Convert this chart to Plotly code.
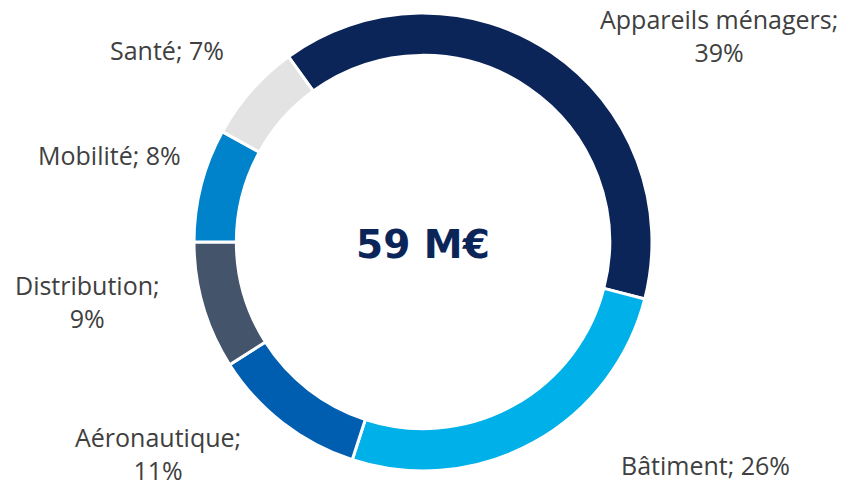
import plotly.graph_objects as go

# ---- data ----
categories = ["Appareils ménagers", "Bâtiment", "Aéronautique", "Distribution", "Mobilité", "Santé"]
values = [39, 26, 11, 9, 8, 7]
colors = ["#0C2559", "#00B0E8", "#005EB0", "#44546A", "#0083CB", "#E3E3E3"]
center_text = "59 M€"

# label layout (style): whether the percentage goes on its own line, and label centre in px
label_break = [True, False, True, True, False, False]
label_pos_px = [(719, 35), (705, 465), (158, 453), (87, 301), (109, 155), (167, 50)]

W, H = 848, 487
cx, cy, R = 423, 242, 229


def px(x, y):
    return x / W, 1 - y / H


fig = go.Figure(
    go.Pie(
        labels=categories,
        values=values,
        hole=0.815,
        sort=False,
        direction="clockwise",
        rotation=-36,
        marker=dict(colors=colors, line=dict(color="white", width=3)),
        textinfo="none",
        hoverinfo="label+percent",
        domain=dict(x=[(cx - R) / W, (cx + R) / W], y=[1 - (cy + R) / H, 1 - (cy - R) / H]),
        showlegend=False,
    )
)

annotations = []
label_font = dict(family="Open Sans", size=25, color="#404040")
for cat, v, brk, (lx, ly) in zip(categories, values, label_break, label_pos_px):
    text = f"{cat};<br>{v}%" if brk else f"{cat}; {v}%"
    x0, y0 = px(lx, ly)
    annotations.append(
        dict(text=text, x=x0, y=y0, xref="paper", yref="paper", showarrow=False,
             xanchor="center", yanchor="middle", align="center", font=label_font)
    )

x0, y0 = px(cx, 245)
annotations.append(
    dict(text=f"<b>{center_text}</b>", x=x0, y=y0, xref="paper", yref="paper", showarrow=False,
         xanchor="center", yanchor="middle",
         font=dict(family="DejaVu Sans", size=39, color="#0C2559"))
)

fig.update_layout(
    width=W, height=H,
    margin=dict(l=0, r=0, t=0, b=0),
    paper_bgcolor="white", plot_bgcolor="white",
    annotations=annotations,
)

fig.write_html(
    "out.html",
    config={"displayModeBar": False},
    post_script="document.body.style.margin='0';document.body.style.overflow='hidden';",
)
